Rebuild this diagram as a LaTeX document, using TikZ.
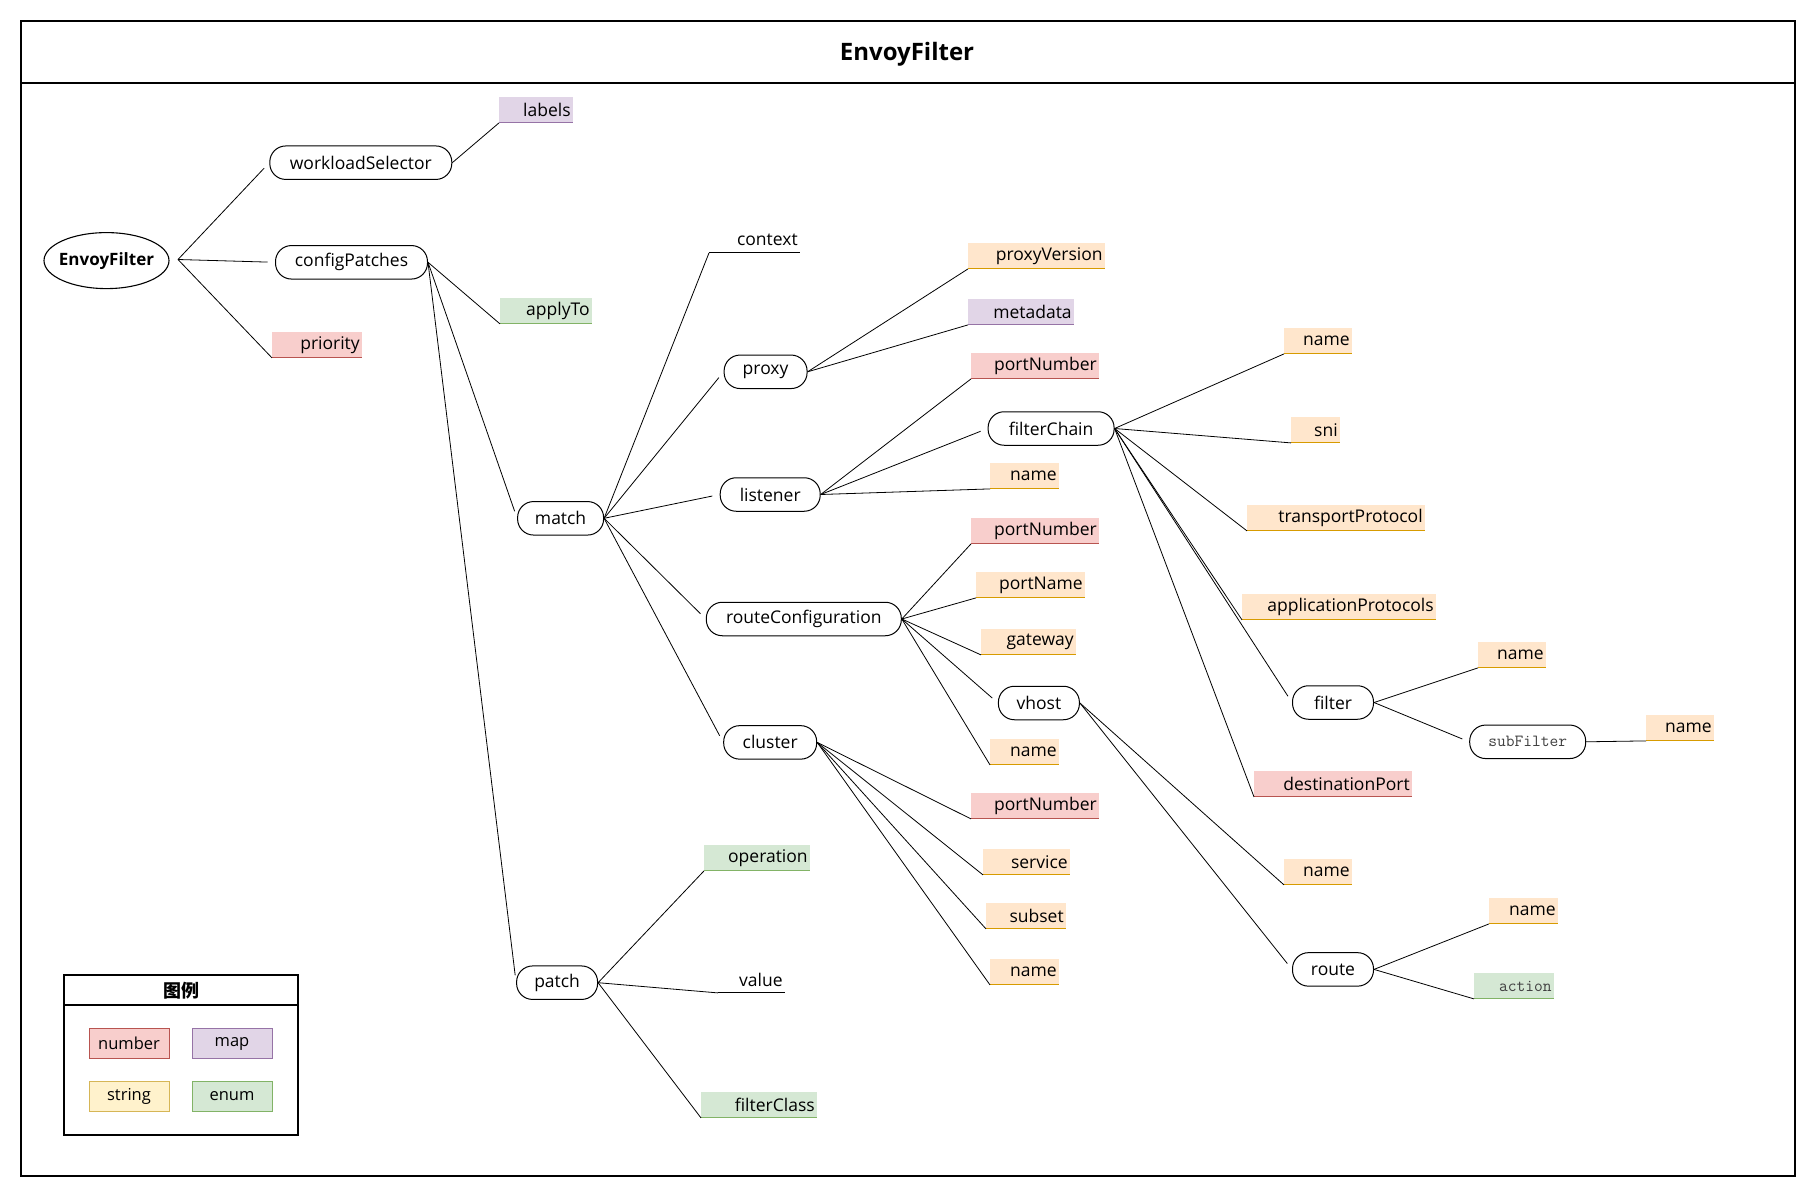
\documentclass[tikz,border=0pt]{standalone}
\usepackage{fontspec}
\setmainfont{Open Sans}
\newfontfamily\cjkf{Noto Sans CJK SC}
\usetikzlibrary{shapes.geometric}

\definecolor{numF}{HTML}{F8CECC}\definecolor{numL}{HTML}{B85450}
\definecolor{mapF}{HTML}{E1D5E7}\definecolor{mapL}{HTML}{9673A6}
\definecolor{strF}{HTML}{FFE6CC}\definecolor{strL}{HTML}{D79B00}
\definecolor{enmF}{HTML}{D5E8D4}\definecolor{enmL}{HTML}{82B366}
\definecolor{ylwF}{HTML}{FFF2CC}\definecolor{ylwL}{HTML}{D6B656}

% #1 fill style, #2 line colour, #3 name, #4 x, #5 y(top), #6 width, #7 text
\newcommand{\ftag}[7]{%
  \pgfmathsetmacro{\ftw}{#6-5}%
  \node[#1, anchor=north west, minimum height=25.5pt, inner xsep=2.5pt, inner ysep=0pt,
        text width=\ftw pt, align=right, font=\tagfont] (#3) at (#4,#5) {#7};
  \draw[color=#2, line width=0.9pt] (#3.south west) -- (#3.south east);
}
\newcommand{\tagfont}{\fontsize{17.5}{20}\selectfont}

\begin{document}
\begin{tikzpicture}[x=1pt,y=-1pt,
  oval/.style={draw, rounded corners=16pt, line width=1pt, minimum height=33.5pt,
               inner sep=0pt, font=\fontsize{17.5}{20}\selectfont},
  edge/.style={line width=0.8pt},
  toov/.style={edge, shorten >=7.5pt},
  legbox/.style={draw, line width=0.9pt, minimum width=80pt, minimum height=30pt,
                 inner sep=0pt, font=\fontsize{16.5}{19}\selectfont}
]
\useasboundingbox (0,0) rectangle (1816,1196);
\fill[white] (0,0) rectangle (1816,1196);

% frame and title
\draw[line width=1.3pt] (21,21) rectangle (1795,1176);
\draw[line width=1.3pt] (21,83) -- (1795,83);
\node[font=\bfseries\fontsize{24}{28}\selectfont] (title) at (907,54) {EnvoyFilter};

% root
\node[ellipse, draw, line width=1.1pt, minimum width=125pt, minimum height=56pt,
      inner xsep=-4pt, inner ysep=0pt, font=\bfseries\fontsize{17}{20}\selectfont] (root) at (106.5,260.6) {EnvoyFilter};
\coordinate (rootout) at (178,259.5);

% ovals
\node[oval, minimum width=182pt] (ws) at (360.8,162.7) {workloadSelector};
\node[oval, minimum width=152pt] (cp) at (351.5,262.3) {configPatches};
\node[oval, minimum width=86pt] (match) at (560.6,518.3) {match};
\node[oval, minimum width=81pt] (patch) at (557.1,982.7) {patch};
\node[oval, minimum width=83pt] (proxy) at (765.6,371.8) {proxy};
\node[oval, minimum width=100pt] (lis) at (770.2,494.5) {listener};
\node[oval, minimum width=195pt] (rc) at (803.8,619) {routeConfiguration};
\node[oval, minimum width=93pt] (cl) at (770.2,742.4) {cluster};
\node[oval, minimum width=126pt] (fc) at (1051.1,428.5) {filterChain};
\node[oval, minimum width=81pt] (vh) at (1038.9,703) {vhost};
\node[oval, minimum width=81pt] (filter) at (1333,702.5) {filter};
\node[oval, minimum width=116pt, text=black!75, font=\ttfamily\fontsize{17}{20}\selectfont] (sf) at (1527.7,741.8) {subFilter};
\node[oval, minimum width=81pt] (route) at (1333,969.4) {route};

% tags
\ftag{fill=mapF}{mapL}{lab}{499}{97}{74}{labels}
\ftag{fill=enmF}{enmL}{apply}{500}{298}{92}{applyTo}
\ftag{fill=numF}{numL}{prio}{272}{332}{90}{priority}
\ftag{fill=none}{black}{ctx}{709}{227}{91}{context}
\ftag{fill=strF}{strL}{pver}{968}{243}{137}{proxyVersion}
\ftag{fill=mapF}{mapL}{meta}{968}{299}{106}{metadata}
\ftag{fill=numF}{numL}{lport}{971}{353}{128}{portNumber}
\ftag{fill=strF}{strL}{lname}{990}{463}{69}{name}
\ftag{fill=numF}{numL}{rport}{971}{518}{128}{portNumber}
\ftag{fill=strF}{strL}{rpname}{976}{572}{109}{portName}
\ftag{fill=strF}{strL}{gw}{981}{629}{95}{gateway}
\ftag{fill=strF}{strL}{rname}{990}{739}{69}{name}
\ftag{fill=numF}{numL}{cport}{971}{793}{128}{portNumber}
\ftag{fill=strF}{strL}{svc}{983}{849}{87}{service}
\ftag{fill=strF}{strL}{subs}{986}{903}{80}{subset}
\ftag{fill=strF}{strL}{cname}{990}{959}{69}{name}
\ftag{fill=enmF}{enmL}{op}{704}{845}{106}{operation}
\ftag{fill=none}{black}{val}{718}{967}{67}{value}
\ftag{fill=enmF}{enmL}{fcls}{701}{1092}{116}{filterClass}
\ftag{fill=strF}{strL}{fname}{1284}{328}{68}{name}
\ftag{fill=strF}{strL}{sni}{1291}{417}{49}{sni}
\ftag{fill=strF}{strL}{tp}{1247}{505}{178}{transportProtocol}
\ftag{fill=strF}{strL}{ap}{1242}{594}{194}{applicationProtocols}
\ftag{fill=numF}{numL}{dport}{1254}{771}{158}{destinationPort}
\ftag{fill=strF}{strL}{finame}{1478}{642}{68}{name}
\ftag{fill=strF}{strL}{sfname}{1646}{715}{68}{name}
\ftag{fill=strF}{strL}{vname}{1284}{859}{68}{name}
\ftag{fill=strF}{strL}{rtname}{1489}{898}{69}{name}
\ftag{fill=enmF}{enmL}{act}{1474}{973}{80}{\ttfamily\fontsize{17}{20}\selectfont\textcolor{black!75}{action}}

% edges
\draw[toov] (rootout) -- (ws.west);
\draw[toov] (rootout) -- (cp.west);
\draw[edge] (rootout) -- (prio.south west);
\draw[edge] (ws.east) -- (lab.south west);
\draw[edge] (cp.east) -- (apply.south west);
\draw[toov] (cp.east) -- (match.west);
\draw[toov] (cp.east) -- (patch.west);
\draw[edge] (match.east) -- (ctx.south west);
\draw[toov] (match.east) -- (proxy.west);
\draw[toov] (match.east) -- (lis.west);
\draw[toov] (match.east) -- (rc.west);
\draw[toov] (match.east) -- (cl.west);
\draw[edge] (proxy.east) -- (pver.south west);
\draw[edge] (proxy.east) -- (meta.south west);
\draw[edge] (lis.east) -- (lport.south west);
\draw[toov] (lis.east) -- (fc.west);
\draw[edge] (lis.east) -- (lname.south west);
\draw[edge] (rc.east) -- (rport.south west);
\draw[edge] (rc.east) -- (rpname.south west);
\draw[edge] (rc.east) -- (gw.south west);
\draw[toov] (rc.east) -- (vh.west);
\draw[edge] (rc.east) -- (rname.south west);
\draw[edge] (cl.east) -- (cport.south west);
\draw[edge] (cl.east) -- (svc.south west);
\draw[edge] (cl.east) -- (subs.south west);
\draw[edge] (cl.east) -- (cname.south west);
\draw[edge] (fc.east) -- (fname.south west);
\draw[edge] (fc.east) -- (sni.south west);
\draw[edge] (fc.east) -- (tp.south west);
\draw[edge] (fc.east) -- (ap.south west);
\draw[toov] (fc.east) -- (filter.west);
\draw[edge] (fc.east) -- (dport.south west);
\draw[edge] (filter.east) -- (finame.south west);
\draw[toov] (filter.east) -- (sf.west);
\draw[edge] (sf.east) -- (sfname.south west);
\draw[edge] (vh.east) -- (vname.south west);
\draw[toov] (vh.east) -- (route.west);
\draw[edge] (route.east) -- (rtname.south west);
\draw[edge] (route.east) -- (act.south west);
\draw[edge] (patch.east) -- (op.south west);
\draw[edge] (patch.east) -- (val.south west);
\draw[edge] (patch.east) -- (fcls.south west);

% legend
\draw[line width=1.1pt] (64,975) rectangle (298,1135);
\draw[line width=1.1pt] (64,1005) -- (298,1005);
\node[font=\cjkf\bfseries\fontsize{18}{21}\selectfont] (legtitle) at (181,991) {图例};
\node[legbox, fill=numF, draw=numL] (lnum) at (129,1043.5) {number};
\node[legbox, fill=mapF, draw=mapL] (lmap) at (232,1043.5) {map};
\node[legbox, fill=ylwF, draw=ylwL] (lstr) at (129,1096) {string};
\node[legbox, fill=enmF, draw=enmL] (lenm) at (232,1096) {enum};
\end{tikzpicture}
\end{document}
